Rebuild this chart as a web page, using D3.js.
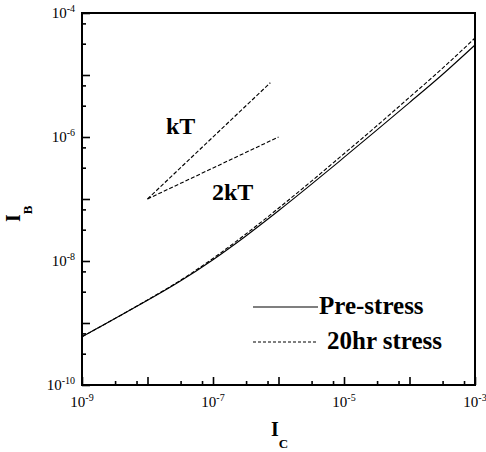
<!DOCTYPE html>
<html>
<head>
<meta charset="utf-8">
<script src="https://cdn.jsdelivr.net/npm/d3@7"></script>
<style>
  html, body { margin: 0; padding: 0; background: #fff; }
  svg { display: block; font-family: "Liberation Serif", "Times New Roman", serif; }
</style>
</head>
<body>
<svg id="chart" width="486" height="452"></svg>
<script>
// Collector current (A)
const collectorCurrent = [1e-9, 3e-9, 1e-8, 3e-8, 1e-7, 3e-7, 1e-6, 3e-6, 1e-5, 3e-5, 1e-4, 3e-4, 1e-3];
// Base current (A) before stress
const baseCurrentPre = [6.0e-10, 1.14e-9, 2.32e-9, 4.58e-9, 1.05e-8, 2.42e-8, 6.46e-8, 1.64e-7, 4.68e-7, 1.23e-6, 3.59e-6, 9.64e-6, 3.05e-5];
// Base current (A) after 20 h stress
const baseCurrentStress = [6.0e-10, 1.14e-9, 2.35e-9, 4.69e-9, 1.10e-8, 2.6e-8, 7.1e-8, 1.84e-7, 5.37e-7, 1.44e-6, 4.37e-6, 1.21e-5, 3.95e-5];

// Ideality reference slopes: kT (slope 1) and 2kT (slope 1/2)
const kTLine = [[1e-8, 1e-7], [7.5e-7, 7.5e-6]];
const twoKTLine = [[1e-8, 1e-7], [1e-6, 1e-6]];

// Axis ticks
const xMajorTicks = [1e-9, 1e-8, 1e-7, 1e-6, 1e-5, 1e-4, 1e-3];
const yMajorTicks = [1e-10, 1e-9, 1e-8, 1e-7, 1e-6, 1e-5, 1e-4];
const minorMultipliers = [3.2, 6.8];
const xTickLabels = [[1e-9, "-9"], [1e-7, "-7"], [1e-5, "-5"], [1e-3, "-3"]];
const yTickLabels = [[1e-10, "-10"], [1e-8, "-8"], [1e-6, "-6"], [1e-4, "-4"]];

const legendItems = [
  { label: "Pre-stress", dash: null },
  { label: "20hr stress", dash: "3,2" }
];

const svg = d3.select("#chart");
const plot = { left: 82, right: 475, top: 13, bottom: 385 };

const x = d3.scaleLog().domain([1e-9, 1e-3]).range([plot.left, plot.right]);
const y = d3.scaleLog().domain([1e-10, 1e-4]).range([plot.bottom, plot.top]);

const minorOf = majors => majors.slice(0, -1).flatMap(m => minorMultipliers.map(k => m * k));

// Ticks pointing into the plot
function drawTicks(axisGen, transform, values, size) {
  const g = svg.append("g").attr("transform", transform)
    .call(axisGen.tickValues(values).tickSize(-size).tickFormat(""));
  g.select(".domain").remove();
  g.selectAll(".tick line").attr("stroke", "#000").attr("stroke-width", 1.6);
}
drawTicks(d3.axisBottom(x), `translate(0,${plot.bottom})`, xMajorTicks, 8);
drawTicks(d3.axisBottom(x), `translate(0,${plot.bottom})`, minorOf(xMajorTicks), 4);
drawTicks(d3.axisLeft(y), `translate(${plot.left},0)`, yMajorTicks, 8);
drawTicks(d3.axisLeft(y), `translate(${plot.left},0)`, minorOf(yMajorTicks), 4);

// Frame
svg.append("rect")
  .attr("x", plot.left).attr("y", plot.top)
  .attr("width", plot.right - plot.left).attr("height", plot.bottom - plot.top)
  .attr("fill", "none").attr("stroke", "#000").attr("stroke-width", 2);

// Tick labels: 10 with superscript exponent
function powerLabel(sel, exp) {
  sel.append("tspan").text("10");
  sel.append("tspan").attr("font-size", 10).attr("dy", -6).text(exp);
}
xTickLabels.forEach(([v, e]) => {
  svg.append("text").attr("x", x(v)).attr("y", 407)
    .attr("text-anchor", "middle").attr("font-size", 15)
    .call(powerLabel, e);
});
yTickLabels.forEach(([v, e]) => {
  svg.append("text").attr("x", 75).attr("y", y(v) + 5)
    .attr("text-anchor", "end").attr("font-size", 15)
    .call(powerLabel, e);
});

// Data curves
const line = d3.line().x(d => x(d[0])).y(d => y(d[1])).curve(d3.curveMonotoneX);
const preData = collectorCurrent.map((c, i) => [c, baseCurrentPre[i]]);
const stressData = collectorCurrent.map((c, i) => [c, baseCurrentStress[i]]);

svg.append("path").datum(preData).attr("d", line)
  .attr("fill", "none").attr("stroke", "#000").attr("stroke-width", 1.1);
svg.append("path").datum(stressData).attr("d", line)
  .attr("fill", "none").attr("stroke", "#000").attr("stroke-width", 1.1)
  .attr("stroke-dasharray", "4,2");

// Reference slopes
const straight = d3.line().x(d => x(d[0])).y(d => y(d[1]));
[kTLine, twoKTLine].forEach(seg => {
  svg.append("path").datum(seg).attr("d", straight)
    .attr("fill", "none").attr("stroke", "#000").attr("stroke-width", 1.1)
    .attr("stroke-dasharray", "4,2");
});
svg.append("text").attr("x", 166).attr("y", 134)
  .attr("font-size", 24).attr("font-weight", "bold").text("kT");
svg.append("text").attr("x", 212).attr("y", 200)
  .attr("font-size", 24).attr("font-weight", "bold").text("2kT");

// Legend
legendItems.forEach((item, i) => {
  const ly = 307 + i * 35;
  svg.append("line").attr("x1", 253).attr("x2", 318).attr("y1", ly).attr("y2", ly)
    .attr("stroke", "#000").attr("stroke-width", 1.1)
    .attr("stroke-dasharray", item.dash);
  svg.append("text").attr("x", i === 0 ? 319 : 327).attr("y", ly + 7)
    .attr("font-size", 25).attr("font-weight", "bold").text(item.label);
});

// Axis titles
const xTitle = svg.append("text").attr("x", 271).attr("y", 436)
  .attr("font-size", 20).attr("font-weight", "bold");
xTitle.append("tspan").text("I");
xTitle.append("tspan").attr("font-size", 13).attr("dy", 12).text("C");

const yTitle = svg.append("text")
  .attr("transform", "translate(20,222) rotate(-90)")
  .attr("font-size", 20).attr("font-weight", "bold");
yTitle.append("tspan").text("I");
yTitle.append("tspan").attr("font-size", 13).attr("dy", 12).text("B");
</script>
</body>
</html>
